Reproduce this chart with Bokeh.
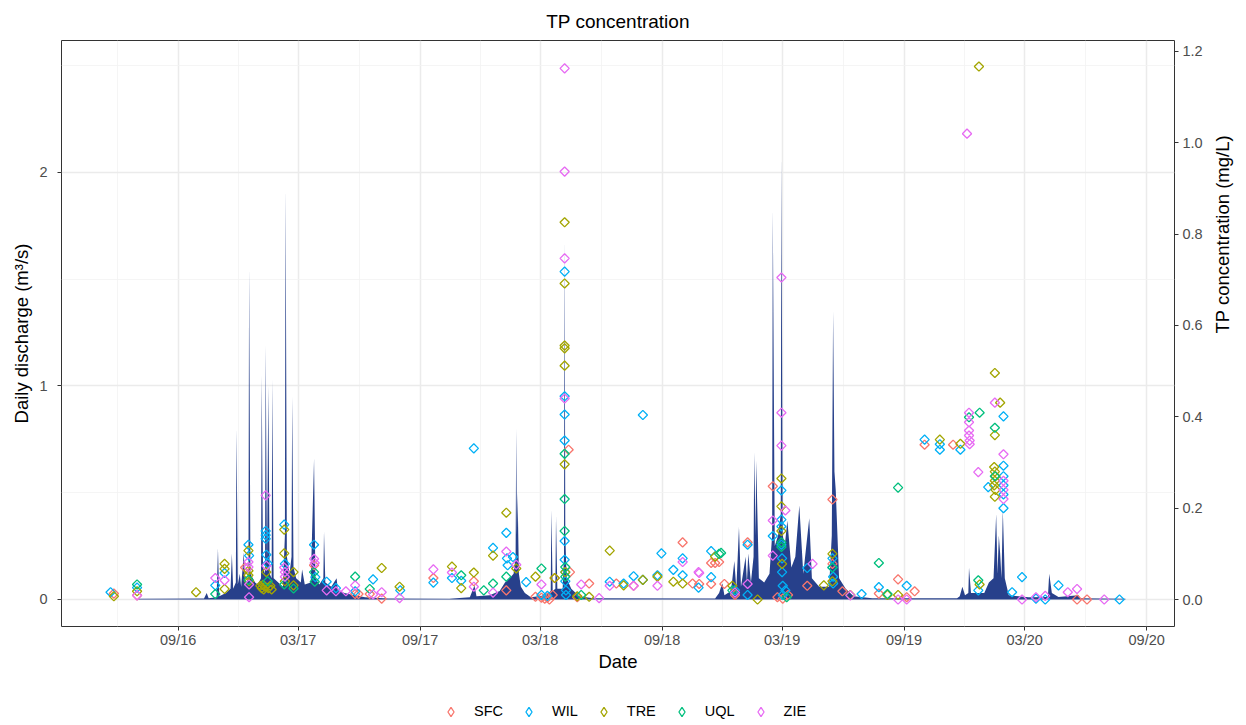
import math
from datetime import datetime
from bokeh.plotting import figure
from bokeh.layouts import column
from bokeh.models import (Range1d, LinearAxis, FixedTicker, DatetimeTickFormatter,
                          PrintfTickFormatter, Legend, LegendItem, ColumnDataSource)
from bokeh.embed import file_html
from bokeh.resources import INLINE

# ---------------- data ----------------
discharge = [
    ("2016-07-03", 0.004), ("2016-10-10", 0.005), ("2016-10-14", 0.03), ("2016-10-17", 0.006),
    ("2016-10-29", 0.01), ("2016-10-31", 0.24), ("2016-11-02", 0.015), ("2016-11-12", 0.03),
    ("2016-11-19", 0.05), ("2016-11-21", 0.215), ("2016-11-23", 0.05), ("2016-11-27", 0.08),
    ("2016-11-28", 0.80), ("2016-11-30", 0.07), ("2016-12-03", 0.12), ("2016-12-05", 0.06),
    ("2016-12-09", 0.22), ("2016-12-11", 0.07), ("2016-12-16", 0.10), ("2016-12-17", 1.56),
    ("2016-12-19", 0.12), ("2016-12-26", 0.08), ("2016-12-30", 0.07), ("2017-01-04", 0.10),
    ("2017-01-05", 1.05), ("2017-01-07", 0.15), ("2017-01-10", 0.12), ("2017-01-11", 1.19),
    ("2017-01-13", 0.15), ("2017-01-15", 1.00), ("2017-01-17", 0.12), ("2017-01-20", 0.10),
    ("2017-01-21", 1.03), ("2017-01-23", 0.10), ("2017-01-30", 0.08), ("2017-02-06", 0.06),
    ("2017-02-09", 0.30), ("2017-02-10", 1.93), ("2017-02-12", 0.20), ("2017-02-16", 0.12),
    ("2017-02-19", 0.20), ("2017-02-20", 0.95), ("2017-02-22", 0.15), ("2017-02-26", 0.10),
    ("2017-03-05", 0.08), ("2017-03-07", 0.14), ("2017-03-11", 0.07), ("2017-03-20", 0.08),
    ("2017-03-25", 0.66), ("2017-03-27", 0.10), ("2017-04-02", 0.07), ("2017-04-08", 0.10),
    ("2017-04-09", 0.32), ("2017-04-11", 0.08), ("2017-04-20", 0.06), ("2017-04-28", 0.10),
    ("2017-04-30", 0.04), ("2017-05-10", 0.03), ("2017-05-25", 0.02), ("2017-06-10", 0.01),
    ("2017-07-15", 0.005), ("2017-10-15", 0.004), ("2017-11-15", 0.01), ("2017-11-22", 0.065),
    ("2017-11-25", 0.015), ("2017-12-15", 0.02), ("2017-12-30", 0.04), ("2018-01-07", 0.08),
    ("2018-01-14", 0.10), ("2018-01-20", 0.12), ("2018-01-23", 0.20), ("2018-01-24", 0.80),
    ("2018-01-25", 0.30), ("2018-01-26", 0.50), ("2018-01-28", 0.12), ("2018-01-31", 0.06),
    ("2018-02-06", 0.03), ("2018-02-15", 0.01), ("2018-03-10", 0.02), ("2018-03-17", 0.04),
    ("2018-03-18", 0.42), ("2018-03-20", 0.04), ("2018-03-24", 0.05), ("2018-03-25", 0.39),
    ("2018-03-27", 0.05), ("2018-04-04", 0.05), ("2018-04-06", 0.20), ("2018-04-07", 1.70),
    ("2018-04-08", 0.30), ("2018-04-10", 0.10), ("2018-04-17", 0.05), ("2018-04-29", 0.015),
    ("2018-05-20", 0.006), ("2018-11-20", 0.005), ("2018-11-26", 0.03), ("2018-11-29", 0.06),
    ("2018-12-01", 0.075), ("2018-12-04", 0.02), ("2018-12-14", 0.04), ("2018-12-19", 0.18),
    ("2018-12-22", 0.05), ("2018-12-26", 0.34), ("2018-12-29", 0.06), ("2019-01-05", 0.20),
    ("2019-01-07", 0.08), ("2019-01-09", 0.215), ("2019-01-13", 0.08), ("2019-01-17", 0.20),
    ("2019-01-18", 0.69), ("2019-01-20", 0.30), ("2019-01-21", 0.65), ("2019-01-25", 0.10),
    ("2019-02-02", 0.08), ("2019-02-10", 0.12), ("2019-02-14", 0.30), ("2019-02-15", 1.83),
    ("2019-02-18", 0.25), ("2019-02-23", 0.30), ("2019-02-27", 0.40), ("2019-02-28", 2.08),
    ("2019-03-02", 0.30), ("2019-03-05", 0.25), ("2019-03-09", 0.37), ("2019-03-15", 0.15),
    ("2019-03-21", 0.20), ("2019-03-27", 0.44), ("2019-04-02", 0.12), ("2019-04-11", 0.38),
    ("2019-04-15", 0.10), ("2019-04-26", 0.06), ("2019-05-11", 0.06), ("2019-05-15", 0.30),
    ("2019-05-17", 1.35), ("2019-05-19", 0.60), ("2019-05-21", 0.51), ("2019-05-26", 0.10),
    ("2019-06-05", 0.05), ("2019-06-17", 0.015), ("2019-07-15", 0.006), ("2019-11-20", 0.006),
    ("2019-11-24", 0.015), ("2019-11-28", 0.06), ("2019-12-02", 0.02), ("2019-12-07", 0.03),
    ("2019-12-08", 0.15), ("2019-12-11", 0.03), ("2019-12-31", 0.03), ("2020-01-07", 0.08),
    ("2020-01-14", 0.10), ("2020-01-18", 0.40), ("2020-01-20", 0.12), ("2020-01-22", 0.30),
    ("2020-01-24", 0.215), ("2020-01-26", 0.10), ("2020-01-28", 0.42), ("2020-01-31", 0.10),
    ("2020-02-06", 0.02), ("2020-03-07", 0.01), ("2020-04-05", 0.012), ("2020-04-07", 0.12),
    ("2020-04-11", 0.03), ("2020-04-21", 0.012), ("2020-05-21", 0.02), ("2020-05-24", 0.006),
    ("2020-07-31", 0.003),
]

sfc = [
    ("2016-05-27", 0.013), ("2016-07-01", 0.009), ("2016-12-11", 0.070), ("2017-03-25", 0.075),
    ("2017-05-26", 0.012), ("2017-05-31", 0.012), ("2017-06-17", 0.012), ("2017-07-05", 0.002),
    ("2017-09-21", 0.047), ("2017-11-21", 0.040), ("2018-01-09", 0.020), ("2018-02-22", 0.006),
    ("2018-03-03", 0.004), ("2018-03-08", 0.002), ("2018-03-12", 0.004), ("2018-03-15", 0.000),
    ("2018-03-20", 0.010), ("2018-03-23", 0.047), ("2018-04-13", 0.328), ("2018-04-15", 0.060),
    ("2018-04-26", 0.005), ("2018-05-14", 0.035), ("2018-06-24", 0.035), ("2018-07-20", 0.030),
    ("2018-10-02", 0.125), ("2018-10-17", 0.035), ("2018-10-27", 0.034), ("2018-11-14", 0.080),
    ("2018-11-14", 0.034), ("2018-11-20", 0.080), ("2018-11-26", 0.082), ("2018-12-04", 0.034),
    ("2018-12-20", 0.010), ("2019-01-08", 0.125), ("2019-02-15", 0.248), ("2019-02-22", 0.005),
    ("2019-03-02", 0.002), ("2019-03-10", 0.010), ("2019-04-08", 0.030), ("2019-05-16", 0.219),
    ("2019-05-16", 0.078), ("2019-05-31", 0.018), ("2019-07-25", 0.013), ("2019-08-23", 0.044),
    ("2019-09-05", 0.005), ("2019-09-17", 0.018), ("2019-10-02", 0.339), ("2019-11-14", 0.339),
    ("2020-05-19", 0.000), ("2020-06-03", 0.000),
]

wil = [
    ("2016-05-22", 0.016), ("2016-07-01", 0.026), ("2016-10-27", 0.031), ("2016-11-10", 0.058),
    ("2016-12-16", 0.120), ("2016-12-17", 0.096), ("2017-01-11", 0.150), ("2017-01-11", 0.141),
    ("2017-01-11", 0.133), ("2017-01-12", 0.098), ("2017-01-14", 0.079), ("2017-02-08", 0.164),
    ("2017-02-09", 0.078), ("2017-03-25", 0.120), ("2017-03-27", 0.049), ("2017-04-13", 0.039),
    ("2017-04-27", 0.025), ("2017-05-26", 0.018), ("2017-06-22", 0.044), ("2017-08-02", 0.020),
    ("2017-09-21", 0.037), ("2017-10-19", 0.047), ("2017-11-02", 0.041), ("2017-11-21", 0.331),
    ("2017-12-20", 0.113), ("2018-01-09", 0.146), ("2018-01-10", 0.090), ("2018-01-11", 0.075),
    ("2018-01-19", 0.093), ("2018-02-08", 0.038), ("2018-03-03", 0.010), ("2018-03-12", 0.008),
    ("2018-04-07", 0.718), ("2018-04-07", 0.445), ("2018-04-07", 0.405), ("2018-04-07", 0.348),
    ("2018-04-07", 0.128), ("2018-04-07", 0.087), ("2018-04-08", 0.060), ("2018-04-08", 0.040),
    ("2018-04-09", 0.020), ("2018-04-09", 0.010), ("2018-06-14", 0.039), ("2018-07-05", 0.035),
    ("2018-07-20", 0.051), ("2018-08-03", 0.404), ("2018-08-03", 0.043), ("2018-08-25", 0.053),
    ("2018-08-31", 0.101), ("2018-09-18", 0.065), ("2018-10-02", 0.090), ("2018-10-02", 0.053),
    ("2018-10-26", 0.026), ("2018-11-14", 0.106), ("2018-11-14", 0.049), ("2018-12-20", 0.020),
    ("2019-01-08", 0.120), ("2019-01-08", 0.010), ("2019-02-15", 0.139), ("2019-02-28", 0.239),
    ("2019-02-28", 0.175), ("2019-02-28", 0.160), ("2019-02-28", 0.120), ("2019-03-01", 0.090),
    ("2019-03-01", 0.060), ("2019-03-02", 0.030), ("2019-03-02", 0.010), ("2019-03-06", 0.020),
    ("2019-04-08", 0.069), ("2019-05-16", 0.090), ("2019-05-16", 0.070), ("2019-05-17", 0.050),
    ("2019-05-17", 0.035), ("2019-06-29", 0.012), ("2019-07-25", 0.027), ("2019-09-05", 0.030),
    ("2019-10-02", 0.350), ("2019-10-25", 0.340), ("2019-10-25", 0.328), ("2019-11-25", 0.328),
    ("2019-12-22", 0.020), ("2020-01-06", 0.246), ("2020-01-29", 0.401), ("2020-01-29", 0.293),
    ("2020-01-29", 0.270), ("2020-01-29", 0.250), ("2020-01-29", 0.230), ("2020-01-29", 0.200),
    ("2020-02-11", 0.016), ("2020-02-26", 0.049), ("2020-03-18", 0.002), ("2020-04-01", 0.000),
    ("2020-04-21", 0.031), ("2020-07-22", 0.000),
]

tre = [
    ("2016-05-27", 0.007), ("2016-07-01", 0.018), ("2016-09-28", 0.016), ("2016-11-10", 0.078),
    ("2016-11-10", 0.067), ("2016-11-10", 0.023), ("2016-12-16", 0.107), ("2016-12-16", 0.063),
    ("2016-12-16", 0.053), ("2016-12-17", 0.040), ("2017-01-03", 0.030), ("2017-01-05", 0.025),
    ("2017-01-07", 0.032), ("2017-01-08", 0.022), ("2017-01-10", 0.028), ("2017-01-12", 0.060),
    ("2017-01-15", 0.025), ("2017-01-18", 0.030), ("2017-01-20", 0.022), ("2017-02-08", 0.153),
    ("2017-02-08", 0.101), ("2017-02-09", 0.040), ("2017-02-22", 0.060), ("2017-02-22", 0.031),
    ("2017-07-05", 0.069), ("2017-08-01", 0.028), ("2017-10-19", 0.072), ("2017-11-02", 0.025),
    ("2017-11-21", 0.059), ("2017-12-20", 0.096), ("2018-01-09", 0.190), ("2018-01-24", 0.068),
    ("2018-02-22", 0.050), ("2018-03-23", 0.047), ("2018-04-07", 0.826), ("2018-04-07", 0.692),
    ("2018-04-07", 0.556), ("2018-04-07", 0.550), ("2018-04-07", 0.512), ("2018-04-07", 0.296),
    ("2018-04-08", 0.060), ("2018-04-26", 0.007), ("2018-05-14", 0.006), ("2018-06-14", 0.107),
    ("2018-07-05", 0.031), ("2018-08-03", 0.043), ("2018-08-25", 0.050), ("2018-09-18", 0.039),
    ("2018-10-02", 0.035), ("2018-11-20", 0.094), ("2018-12-16", 0.030), ("2019-01-23", 0.000),
    ("2019-02-28", 0.265), ("2019-02-28", 0.204), ("2019-02-28", 0.150), ("2019-03-01", 0.078),
    ("2019-05-03", 0.031), ("2019-05-16", 0.100), ("2019-05-16", 0.040), ("2019-06-12", 0.010),
    ("2019-08-07", 0.010), ("2019-08-23", 0.010), ("2019-10-25", 0.350), ("2019-11-25", 0.341),
    ("2019-12-23", 1.167), ("2019-12-24", 0.033), ("2020-01-16", 0.496), ("2020-01-16", 0.360),
    ("2020-01-15", 0.290), ("2020-01-16", 0.280), ("2020-01-17", 0.270), ("2020-01-16", 0.260),
    ("2020-01-15", 0.250), ("2020-01-17", 0.240), ("2020-01-16", 0.225), ("2020-01-24", 0.431),
]

uql = [
    ("2016-07-01", 0.033), ("2016-10-27", 0.012), ("2016-12-16", 0.043), ("2017-01-14", 0.040),
    ("2017-02-08", 0.033), ("2017-02-22", 0.024), ("2017-03-25", 0.060), ("2017-03-26", 0.039),
    ("2017-05-26", 0.050), ("2017-06-17", 0.023), ("2017-11-02", 0.053), ("2017-12-06", 0.020),
    ("2017-12-20", 0.035), ("2018-01-09", 0.050), ("2018-03-03", 0.068), ("2018-04-07", 0.319),
    ("2018-04-07", 0.220), ("2018-04-07", 0.150), ("2018-04-08", 0.071), ("2018-04-08", 0.050),
    ("2018-05-02", 0.010), ("2018-11-26", 0.100), ("2018-11-29", 0.102), ("2018-12-16", 0.020),
    ("2019-02-28", 0.125), ("2019-02-28", 0.115), ("2019-03-08", 0.005), ("2019-05-16", 0.070),
    ("2019-07-25", 0.080), ("2019-08-07", 0.012), ("2019-08-23", 0.245), ("2019-12-08", 0.399),
    ("2019-12-22", 0.042), ("2019-12-24", 0.409), ("2020-01-16", 0.376), ("2020-01-16", 0.270),
]

zie = [
    ("2016-07-01", 0.009), ("2016-10-27", 0.047), ("2016-11-10", 0.042), ("2016-12-16", 0.082),
    ("2016-12-16", 0.071), ("2016-12-17", 0.033), ("2016-12-17", 0.005), ("2017-01-11", 0.228),
    ("2017-01-12", 0.074), ("2017-02-08", 0.070), ("2017-02-09", 0.060), ("2017-02-09", 0.050),
    ("2017-03-25", 0.089), ("2017-03-26", 0.080), ("2017-04-13", 0.020), ("2017-04-27", 0.018),
    ("2017-05-12", 0.018), ("2017-05-26", 0.031), ("2017-06-22", 0.011), ("2017-07-05", 0.016),
    ("2017-08-01", 0.003), ("2017-09-21", 0.066), ("2017-10-19", 0.059), ("2017-11-21", 0.028),
    ("2017-12-20", 0.015), ("2018-01-09", 0.105), ("2018-01-24", 0.076), ("2018-03-03", 0.033),
    ("2018-04-07", 1.163), ("2018-04-07", 0.937), ("2018-04-07", 0.747), ("2018-04-07", 0.440),
    ("2018-05-02", 0.033), ("2018-05-29", 0.003), ("2018-06-14", 0.030), ("2018-07-20", 0.030),
    ("2018-08-25", 0.030), ("2018-10-02", 0.082), ("2018-10-26", 0.060), ("2018-10-27", 0.058),
    ("2018-12-20", 0.015), ("2019-01-08", 0.034), ("2019-02-15", 0.173), ("2019-02-15", 0.096),
    ("2019-02-28", 0.705), ("2019-02-28", 0.409), ("2019-02-28", 0.337), ("2019-03-06", 0.195),
    ("2019-04-16", 0.078), ("2019-06-12", 0.009), ("2019-08-23", 0.000), ("2019-09-05", 0.000),
    ("2019-12-05", 1.020), ("2019-12-08", 0.409), ("2019-12-08", 0.388), ("2019-12-08", 0.370),
    ("2019-12-08", 0.359), ("2019-12-09", 0.348), ("2019-12-09", 0.340), ("2019-12-22", 0.279),
    ("2020-01-16", 0.431), ("2020-01-29", 0.318), ("2020-01-29", 0.260), ("2020-01-29", 0.240),
    ("2020-01-29", 0.220), ("2020-02-26", 0.000), ("2020-03-18", 0.005), ("2020-04-01", 0.008),
    ("2020-05-05", 0.016), ("2020-05-19", 0.023), ("2020-06-29", 0.000),
]

site_names = ["SFC", "WIL", "TRE", "UQL", "ZIE"]
site_colors = ["#F8766D", "#00B0F6", "#A3A500", "#00BF7D", "#E76BF3"]
site_data = [sfc, wil, tre, uql, zie]

x_tick_dates = ["2016-09-01", "2017-03-01", "2017-09-01", "2018-03-01", "2018-09-01",
                "2019-03-01", "2019-09-01", "2020-03-01", "2020-09-01"]
left_ticks = [0, 1, 2]
right_ticks = [0.0, 0.2, 0.4, 0.6, 0.8, 1.0, 1.2]

# ---------------- helpers ----------------
EPOCH = datetime(1970, 1, 1)


def d(s):
    return datetime.strptime(s, "%Y-%m-%d")


def ms(s):
    return (d(s) - EPOCH).total_seconds() * 1000.0


FONT = "Liberation Sans"
MARK = dict(marker="square", angle=math.pi / 4, size=6.5, fill_color=None, line_width=1.3)

p = figure(width=1246, height=690, x_axis_type="datetime",
           x_range=Range1d(d("2016-03-09"), d("2020-10-13")),
           y_range=Range1d(-0.1265, 2.618),
           output_backend="svg", toolbar_location=None,
           min_border_left=61, min_border_right=70, min_border_top=40, min_border_bottom=64,
           background_fill_color="white", border_fill_color="white")
p.extra_y_ranges = {"tp": Range1d(-0.0591, 1.224)}

p.title.text = "TP concentration"
p.title.align = "center"
p.title.text_font = FONT
p.title.text_font_size = "19px"
p.title.text_font_style = "normal"
p.title.text_color = "black"
p.title.standoff = 17

p.outline_line_color = "#333333"
p.outline_line_width = 1

# area of discharge
qx = [d(a) for a, _ in discharge]
qy = [b for _, b in discharge]
p.varea(x=qx, y1=0, y2=qy, fill_color="#27408B")

for name, col, data in zip(site_names, site_colors, site_data):
    src = ColumnDataSource(dict(x=[d(a) for a, _ in data], y=[b for _, b in data]))
    p.scatter("x", "y", source=src, line_color=col, y_range_name="tp", **MARK)

# ticks and grids
major_x = [ms(s) for s in x_tick_dates]
ext = [ms("2016-03-01")] + major_x + [ms("2021-03-01")]
minor_x = [(ext[i] + ext[i + 1]) / 2 for i in range(len(ext) - 1)]
xticker = FixedTicker(ticks=major_x, minor_ticks=minor_x)
p.xaxis.ticker = xticker
p.xgrid.ticker = xticker
fmt = "%m/%y"
p.xaxis.formatter = DatetimeTickFormatter(years=fmt, months=fmt, days=fmt, hours=fmt,
                                          hourmin=fmt, minutes=fmt, minsec=fmt,
                                          seconds=fmt, milliseconds=fmt, microseconds=fmt)

yticker = FixedTicker(ticks=left_ticks, minor_ticks=[-0.5, 0.5, 1.5, 2.5])
p.yaxis.ticker = yticker
p.ygrid.ticker = yticker

for g in (p.xgrid[0], p.ygrid[0]):
    g.grid_line_color = "#EBEBEB"
    g.grid_line_width = 1.5
    g.minor_grid_line_color = "#F2F2F2"
    g.minor_grid_line_width = 0.8

right = LinearAxis(y_range_name="tp", ticker=FixedTicker(ticks=right_ticks),
                   formatter=PrintfTickFormatter(format="%.1f"))
p.add_layout(right, "right")

p.xaxis.axis_label = "Date"
p.yaxis.axis_label = "Daily discharge (m³/s)"
right.axis_label = "TP concentration (mg/L)"
right.axis_label_orientation = math.pi / 2

for ax in (p.xaxis[0], p.yaxis[0], right):
    ax.axis_line_color = None
    ax.major_tick_line_color = "#333333"
    ax.major_tick_line_width = 1
    ax.major_tick_out = 4
    ax.major_tick_in = 0
    ax.minor_tick_line_color = None
    ax.major_label_text_font = FONT
    ax.major_label_text_font_size = "14.5px"
    ax.major_label_text_color = "#4D4D4D"
    ax.axis_label_text_font = FONT
    ax.axis_label_text_font_size = "18.5px"
    ax.axis_label_text_font_style = "normal"
    ax.axis_label_text_color = "black"

p.xaxis.major_label_standoff = 1
p.xaxis.axis_label_standoff = 0
p.yaxis.major_label_standoff = 10
p.yaxis.axis_label_standoff = 4
right.major_label_standoff = 4
right.axis_label_standoff = 17

# ---------------- legend strip below the plot ----------------
lg = figure(width=1246, height=35, x_range=Range1d(0, 1), y_range=Range1d(0, 1),
            output_backend="svg", toolbar_location=None,
            x_axis_location=None, y_axis_location=None,
            min_border=0, min_border_left=0, min_border_right=0,
            min_border_top=0, min_border_bottom=0,
            background_fill_color="white", border_fill_color="white")
lg.outline_line_color = None
lg.xgrid.visible = False
lg.ygrid.visible = False
items = []
for name, col, data in zip(site_names, site_colors, site_data):
    # same series; they fall outside this strip's ranges, only the legend key shows
    src = ColumnDataSource(dict(x=[ms(a) for a, _ in data], y=[b for _, b in data]))
    r = lg.scatter("x", "y", source=src, marker="diamond", size=9, fill_color=None,
                   line_width=1.3, line_color=col)
    items.append(LegendItem(label=name, renderers=[r]))

legend = Legend(items=items, orientation="horizontal", location=(378, 2.5),
                border_line_color=None, background_fill_alpha=0,
                padding=0, margin=0, spacing=14, label_standoff=12,
                glyph_width=23, glyph_height=23, label_height=16,
                label_text_font=FONT, label_text_font_size="14.5px",
                label_text_color="black")
lg.add_layout(legend, "center")

layout = column(p, lg, spacing=0)
open("out.html", "w").write(file_html(layout, INLINE))
